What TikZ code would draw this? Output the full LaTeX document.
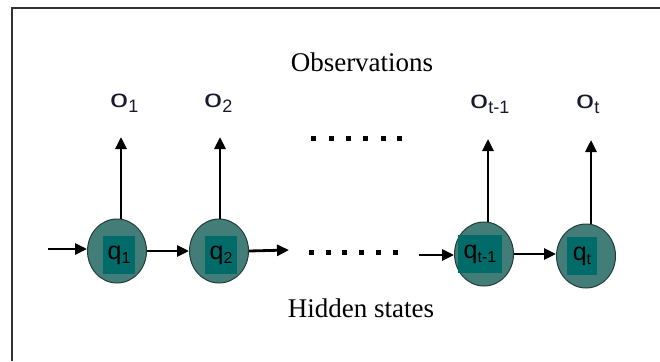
\documentclass[tikz,border=0pt]{standalone}
\usepackage{fontspec}
\setmainfont{Liberation Serif}
\newfontfamily\arialf{Liberation Sans}
\usetikzlibrary{arrows.meta,shapes.geometric}
\definecolor{circfill}{RGB}{66,125,120}
\definecolor{boxfill}{RGB}{0,107,104}
\definecolor{circline}{RGB}{35,60,58}
\definecolor{olabc}{RGB}{25,25,45}
\newcommand{\qlab}[1]{{\fontsize{25}{25}\selectfont q}\raisebox{-4pt}{\fontsize{16}{16}\selectfont #1}}
\newcommand{\olab}[1]{\scalebox{1.3}[1]{\fontsize{25}{25}\selectfont o}\raisebox{-5pt}{\fontsize{18}{18}\selectfont #1}}
\begin{document}
\begin{tikzpicture}[x=1pt,y=-1pt,
  state/.style={ellipse,draw=circline,line width=1pt,fill=circfill,minimum width=59pt,minimum height=64pt,inner sep=0pt},
  statebox/.style={fill=boxfill,inner sep=0pt,minimum width=32pt,minimum height=38pt,font=\arialf},
  obs/.style={anchor=base west,inner sep=0pt,font=\arialf,text=olabc},
  arr/.style={line width=2.8pt,-{Triangle[length=12pt,width=11pt]}},
  title/.style={font=\fontsize{27}{27}\selectfont}]
\useasboundingbox (0,0) rectangle (660,361);
\fill[white] (0,0) rectangle (660,361);
% frame
\draw[line width=2.5pt, black!80] (12,361) -- (12,8) -- (660,8);
% titles
\node[title] (obstitle) at (362,62) {Observations};
\node[title] (hidtitle) at (361,308) {Hidden states};
% states
\node[state] (q1) at (117,251) {};
\node[state] (q2) at (219,251) {};
\node[state] (qt1) at (484,254) {};
\node[state] (qt) at (586,256) {};
\node[statebox] (q1l) at (119,255) {\qlab{1}};
\node[statebox] (q2l) at (221,255) {\qlab{2}};
\node[statebox,minimum width=44pt] (qt1l) at (480,254) {\qlab{t-1}};
\node[statebox,minimum width=30pt] (qtl) at (582,256) {\qlab{t}};
% observations
\node[obs] (o1) at (110,107) {\olab{1}};
\node[obs] (o2) at (204,107) {\olab{2}};
\node[obs] (ot1) at (470,108) {\olab{t-1}};
\node[obs] (ot) at (576,108) {\olab{t}};
% arrow ends
\coordinate (in1) at (48,249);
\coordinate (out2) at (289,250);
\coordinate (inqt1) at (419,255);
\coordinate (t1) at (121,137);
\coordinate (t2) at (220,137);
\coordinate (t3) at (488,139);
\coordinate (t4) at (591,140);
% horizontal arrows
\draw[arr] (in1) -- (in1 -| q1.west);
\draw[arr] (q1.east) -- (q2.west);
\draw[arr] (q2.east) -- (out2);
\draw[arr] (inqt1) -- (inqt1 -| qt1.west);
\draw[arr] (qt1.east) -- (qt1.east -| qt.west);
% vertical arrows
\draw[arr] (q1.north -| t1) -- (t1);
\draw[arr] (q2.north -| t2) -- (t2);
\draw[arr] (qt1.north -| t3) -- (t3);
\draw[arr] (qt.north -| t4) -- (t4);
% dots
\foreach \x in {313,331,348,365,383,399} \fill (\x-2.5,135.5) rectangle ++(5,5);
\foreach \x in {311,328,344,361,378,395} \fill (\x-2.5,249.5) rectangle ++(5,5);
\end{tikzpicture}
\end{document}
